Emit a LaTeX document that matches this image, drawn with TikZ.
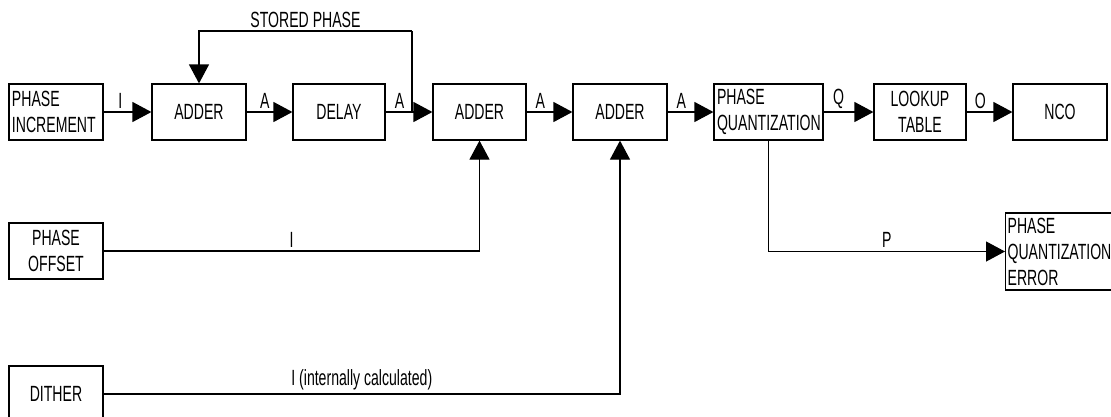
\documentclass[tikz,border=0pt]{standalone}
\usepackage{fontspec}
\setmainfont[FakeStretch=0.64]{Liberation Sans}
\usetikzlibrary{arrows.meta,positioning}

\begin{document}
\begin{tikzpicture}[x=1pt,y=-1pt,
      box/.style={draw,line width=1.2pt,inner sep=3pt,minimum height=56pt,align=center},
      blk/.style={box,minimum width=94pt},
      lblk/.style={box,text width=#1,align=left},
      arr/.style={-{Triangle[length=19pt,width=20pt]},line width=1.2pt},
      lbl/.style={above,inner sep=3pt},
      every node/.style={font=\fontsize{22}{26}\selectfont}
]
\clip (0,0) rectangle (1111,416);
\node[lblk=88pt] (inc) at (56,112) {PHASE\\INCREMENT};
\node[blk] (add1) at (199,112) {ADDER};
\node[blk,minimum width=92pt] (delay) at (339,112) {DELAY};
\node[blk,minimum width=93pt] (add2) at (479.5,112) {ADDER};
\node[blk] (add3) at (620,112) {ADDER};
\node[lblk=103pt] (quant) at (768.5,112) {PHASE\\QUANTIZATION};
\node[blk,minimum width=92pt] (lut) at (920,112) {LOOKUP\\TABLE};
\node[blk] (nco) at (1060,112) {NCO};
\node[blk] (offset) at (56,251) {PHASE\\OFFSET};
\node[blk] (dither) at (56,394) {DITHER};
\node[lblk=120pt,minimum height=77pt,anchor=west,inner sep=2pt] (qerr) at (1005,251.5) {PHASE\\QUANTIZATION\\ERROR};
\coordinate (tap) at (412,112);
\coordinate (fbtop) at (412,31);

\draw[arr] (inc) -- node[lbl,pos=0.35] {I} (add1);
\draw[arr] (add1) -- node[lbl,pos=0.4] {A} (delay);
\draw[arr] (delay) -- node[lbl,pos=0.3] {A} (add2);
\draw[line width=1.2pt] (tap) -- (fbtop);
\draw[arr] (fbtop) -| node[lbl,pos=0.25] {STORED PHASE} (add1);
\draw[arr] (add2) -- node[lbl,pos=0.3] {A} (add3);
\draw[arr] (add3) -- node[lbl,pos=0.3] {A} (quant);
\draw[arr] (quant) -- node[lbl,pos=0.3] {Q} (lut);
\draw[arr] (lut) -- node[lbl,pos=0.3] {O} (nco);
\draw[arr] (offset) -| node[lbl,pos=0.25] {I} (add2);
\draw[arr] (dither) -| node[lbl,pos=0.25] {I (internally calculated)} (add3);
\draw[arr] (quant) |- node[lbl,pos=0.75] {P} (qerr);
\end{tikzpicture}
\end{document}
